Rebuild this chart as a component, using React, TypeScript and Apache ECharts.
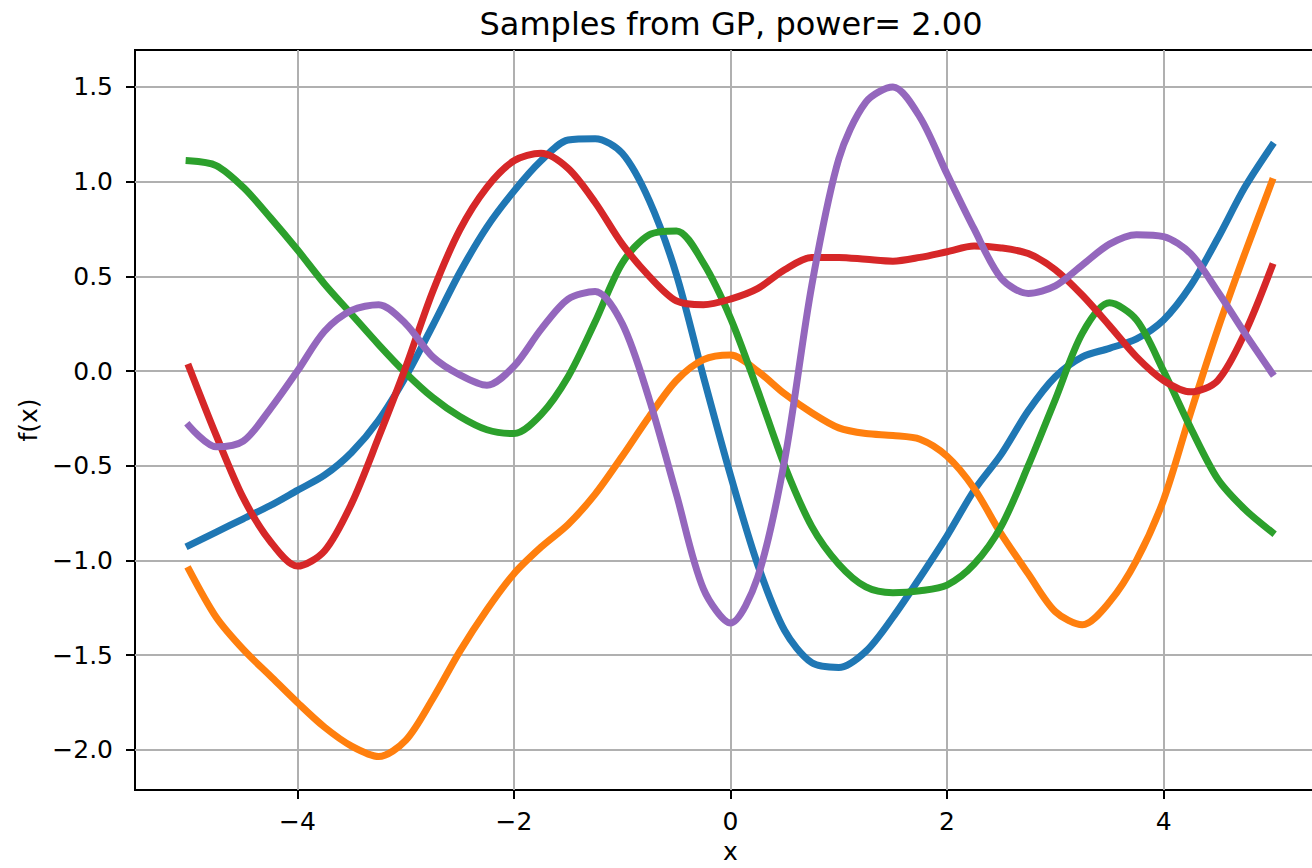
import React, { useEffect, useRef } from "react";
import * as echarts from "echarts";

const xs = [-5, -4.75, -4.5, -4.25, -4, -3.75, -3.5, -3.25, -3, -2.75, -2.5, -2.25, -2, -1.75, -1.5, -1.25, -1, -0.75, -0.5, -0.25, 0, 0.25, 0.5, 0.75, 1, 1.25, 1.5, 1.75, 2, 2.25, 2.5, 2.75, 3, 3.25, 3.5, 3.75, 4, 4.25, 4.5, 4.75, 5];

const sampleBlue = [-0.92, -0.85, -0.78, -0.71, -0.63, -0.55, -0.43, -0.26, -0.03, 0.24, 0.52, 0.76, 0.95, 1.11, 1.22, 1.227, 1.15, 0.9, 0.51, -0.03, -0.55, -1.02, -1.37, -1.54, -1.565, -1.48, -1.3, -1.09, -0.87, -0.63, -0.44, -0.21, -0.03, 0.075, 0.12, 0.17, 0.27, 0.45, 0.7, 0.97, 1.19];
const sampleOrange = [-1.05, -1.3, -1.47, -1.61, -1.75, -1.88, -1.98, -2.035, -1.95, -1.73, -1.48, -1.26, -1.07, -0.93, -0.81, -0.65, -0.45, -0.24, -0.05, 0.06, 0.085, 0.0, -0.12, -0.22, -0.3, -0.33, -0.34, -0.36, -0.45, -0.62, -0.86, -1.07, -1.27, -1.34, -1.22, -1.0, -0.68, -0.22, 0.22, 0.62, 1.0];
const sampleGreen = [1.11, 1.085, 0.97, 0.81, 0.64, 0.46, 0.3, 0.14, -0.01, -0.14, -0.24, -0.31, -0.33, -0.23, -0.03, 0.26, 0.57, 0.72, 0.74, 0.57, 0.28, -0.1, -0.5, -0.82, -1.02, -1.14, -1.17, -1.16, -1.13, -1.02, -0.82, -0.5, -0.15, 0.2, 0.36, 0.27, 0.0, -0.3, -0.57, -0.73, -0.85];
const sampleRed = [0.02, -0.34, -0.67, -0.9, -1.03, -0.95, -0.7, -0.35, 0.02, 0.42, 0.745, 0.97, 1.11, 1.15, 1.07, 0.89, 0.67, 0.5, 0.37, 0.35, 0.38, 0.435, 0.535, 0.6, 0.6, 0.59, 0.58, 0.6, 0.63, 0.66, 0.65, 0.62, 0.535, 0.4, 0.24, 0.075, -0.05, -0.11, -0.05, 0.2, 0.55];
const samplePurple = [-0.29, -0.4, -0.37, -0.2, 0.0, 0.21, 0.32, 0.35, 0.25, 0.075, -0.02, -0.075, 0.025, 0.22, 0.38, 0.42, 0.25, -0.15, -0.65, -1.15, -1.33, -1.09, -0.47, 0.45, 1.12, 1.42, 1.5, 1.34, 1.04, 0.75, 0.49, 0.41, 0.45, 0.56, 0.67, 0.72, 0.71, 0.62, 0.42, 0.2, -0.01];

const seriesNames = ["sample 1", "sample 2", "sample 3", "sample 4", "sample 5"];
const seriesValues = [sampleBlue, sampleOrange, sampleGreen, sampleRed, samplePurple];
const seriesColors = ["#1f77b4", "#ff7f0e", "#2ca02c", "#d62728", "#9467bd"];

const xTicks = [-4, -2, 0, 2, 4];
const yTicks = [-2, -1.5, -1, -0.5, 0, 0.5, 1, 1.5];

const titleText = "Samples from GP, power= 2.00";
const xName = "x";
const yName = "f(x)";

const FONT = "DejaVu Sans";

function fmt(v: number, digits: number): string {
  const s = Math.abs(v).toFixed(digits);
  return v < 0 ? "\u2212" + s : s;
}

export default function App() {
  const ref = useRef<HTMLDivElement>(null);

  useEffect(() => {
    if (!ref.current) return;
    const chart = echarts.init(ref.current, undefined, { renderer: "svg" });

    const series: any[] = seriesValues.map((vals, i) => ({
      name: seriesNames[i],
      type: "line",
      data: xs.map((x, j) => [x, vals[j]]),
      showSymbol: false,
      smooth: 0.3,
      lineStyle: { color: seriesColors[i], width: 7, cap: "square" },
      itemStyle: { color: seriesColors[i] },
      clip: true,
      z: 3,
    }));

    const option: any = {
      animation: false,
      backgroundColor: "#ffffff",
      textStyle: { fontFamily: FONT },
      grid: {
        left: 135,
        top: 50,
        width: 1191,
        height: 740,
        show: true,
        borderColor: "#000000",
        borderWidth: 2,
        backgroundColor: "transparent",
        containLabel: false,
        outerBoundsMode: "none",
      },
      xAxis: {
        type: "value",
        min: -5.5,
        max: 5.5,
        name: xName,
        nameLocation: "middle",
        nameGap: 48,
        nameTextStyle: { fontSize: 25, color: "#000", fontFamily: FONT, lineHeight: 22 },
        axisLine: { show: false, onZero: false },
        axisTick: {
          show: true,
          customValues: xTicks,
          length: 9,
          lineStyle: { color: "#000", width: 2 },
        },
        axisLabel: {
          customValues: xTicks,
          formatter: (v: number) => fmt(v, 0),
          fontSize: 25,
          color: "#000",
          margin: 19,
          fontFamily: FONT,
        },
        splitLine: { show: true, lineStyle: { color: "#b0b0b0", width: 2 } },
      },
      yAxis: {
        type: "value",
        min: -2.212,
        max: 1.695,
        name: yName,
        nameLocation: "middle",
        nameGap: 94,
        nameRotate: 90,
        nameTextStyle: { fontSize: 25, color: "#000", fontFamily: FONT },
        axisLine: { show: false, onZero: false },
        axisTick: {
          show: true,
          customValues: yTicks,
          length: 9,
          lineStyle: { color: "#000", width: 2 },
        },
        axisLabel: {
          customValues: yTicks,
          formatter: (v: number) => fmt(v, 1),
          fontSize: 25,
          color: "#000",
          margin: 22,
          fontFamily: FONT,
        },
        splitLine: { show: true, lineStyle: { color: "#b0b0b0", width: 2 } },
      },
      graphic: [
        {
          type: "text",
          x: 731,
          y: 24,
          style: {
            text: titleText,
            fontSize: 32,
            fontFamily: FONT,
            fill: "#000",
            textAlign: "center",
            textVerticalAlign: "middle",
          },
        },
      ],
      series,
    };

    chart.setOption(option);
    return () => chart.dispose();
  }, []);

  return (
    <div
      ref={ref}
      style={{ position: "fixed", left: 0, top: 0, width: 1330, height: 868, background: "#fff" }}
    />
  );
}
